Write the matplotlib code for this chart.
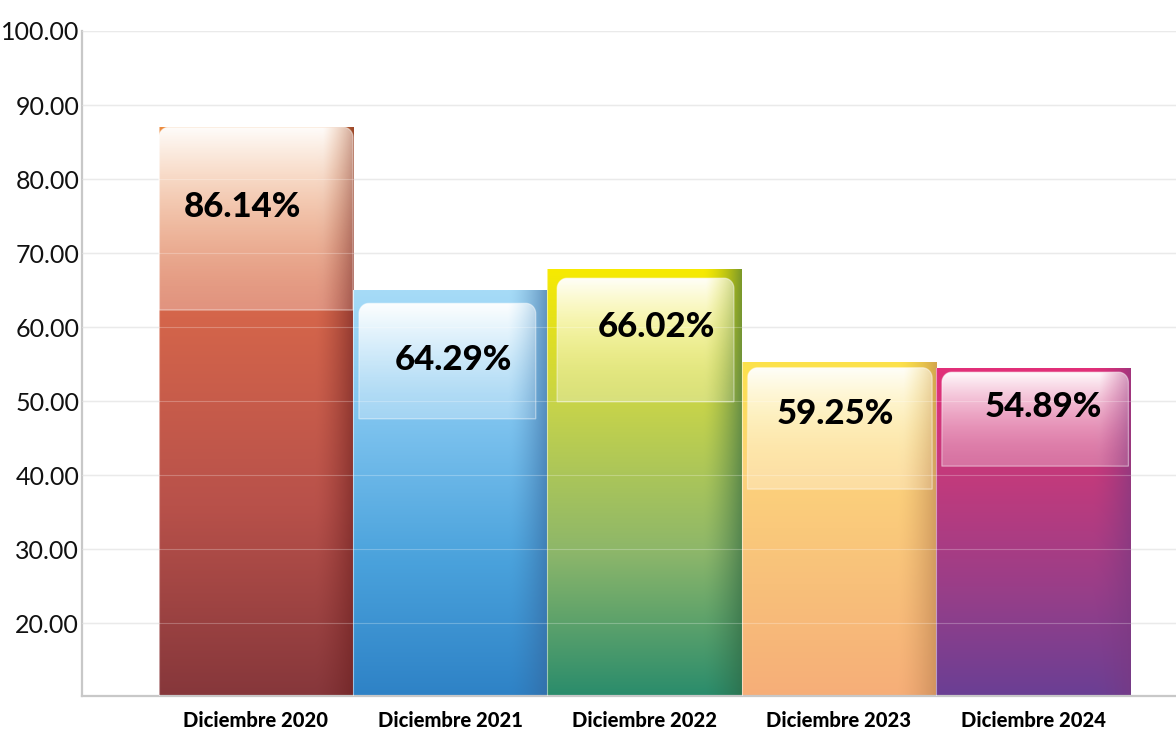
import numpy as np
import matplotlib
matplotlib.use("Agg")
import matplotlib.pyplot as plt
from matplotlib.colors import to_rgb
from matplotlib.path import Path
from matplotlib.patches import PathPatch, Rectangle

# ---------------- data ----------------
categories = ["Diciembre 2020", "Diciembre 2021", "Diciembre 2022",
              "Diciembre 2023", "Diciembre 2024"]
bar_heights = [87.0, 65.0, 67.8, 55.3, 54.5]          # drawn bar tops
value_labels = ["86.14%", "64.29%", "66.02%", "59.25%", "54.89%"]
y_ticks = [20, 30, 40, 50, 60, 70, 80, 90, 100]

# ---------------- styles ----------------
grad_colors = [  # top -> bottom stops
    ["#ec8a3c", "#d4654b", "#b8514a", "#86373b"],
    ["#a6dbf7", "#7cc2ee", "#4aa2dc", "#2e82c6"],
    ["#f7ea00", "#c4d24c", "#8cb66a", "#2a8c6c"],
    ["#fde24a", "#fcd27c", "#f8c07a", "#f6ae78"],
    ["#e22f78", "#c23a7c", "#9a3e88", "#6a3f94"],
]
edge_dark = ["#6a1f1f", "#35659a", "#2d6540", "#b8804e", "#7a3880"]
# gloss panel: (left, right) relative to bar centre, inset from top, depth
gloss_x = [(-0.5, 0.5), (-0.47, 0.44), (-0.45, 0.46), (-0.47, 0.48), (-0.47, 0.49)]
gloss_inset = [0.0, 1.8, 1.2, 0.8, 0.6]
gloss_depth = [24.7, 15.6, 16.7, 16.4, 12.7]
label_dx = [-0.067, 0.015, 0.06, -0.02, 0.05]
label_dy = [1.5, 0.1, 1.8, 1.9, 1.7]

YMIN, YMAX = 10.14, 100.0

fig = plt.figure(figsize=(11.76, 7.30), dpi=100)
ax = fig.add_axes([82 / 1176, 1 - 696 / 730, 1 - 82 / 1176, (696 - 31) / 730])
ax.set_xlim(-0.895, 4.735)
ax.set_ylim(YMIN, YMAX)

for yv in y_ticks:
    ax.axhline(yv, color="#e4e4e4", lw=1.0, zorder=0)


def vgrad(stops, n=256):
    cols = np.array([to_rgb(c) for c in stops])
    pos = np.linspace(0, 1, len(stops))
    t = np.linspace(0, 1, n)
    return np.stack([np.interp(t, pos, cols[:, k]) for k in range(3)], axis=1)


def rounded_top_path(x0, x1, y0, y1, rx, ry, n=12):
    verts = [(x0, y0), (x0, y1 - ry)]
    th = np.linspace(np.pi, np.pi / 2, n)
    verts += list(zip(x0 + rx + rx * np.cos(th), y1 - ry + ry * np.sin(th)))
    th = np.linspace(np.pi / 2, 0, n)
    verts += list(zip(x1 - rx + rx * np.cos(th), y1 - ry + ry * np.sin(th)))
    verts += [(x1, y0), (x0, y0)]
    codes = [Path.MOVETO] + [Path.LINETO] * (len(verts) - 2) + [Path.CLOSEPOLY]
    return Path(verts, codes)


for i, h in enumerate(bar_heights):
    x0, x1 = i - 0.5, i + 0.5
    H, W = 300, 120
    col = vgrad(grad_colors[i], H)  # top->bottom
    img = np.repeat(col[:, None, :], W, axis=1)
    xs = np.linspace(0, 1, W)
    shade = np.clip((xs - 0.8) / 0.2, 0, 1) ** 1.5 * 0.6
    dark = np.array(to_rgb(edge_dark[i]))
    img = img * (1 - shade[None, :, None]) + dark[None, None, :] * shade[None, :, None]
    rect = Rectangle((x0, YMIN), 1.0, h - YMIN, transform=ax.transData,
                     facecolor="none", edgecolor="none")
    ax.add_patch(rect)
    im = ax.imshow(img, extent=(x0, x1, YMIN, h), aspect="auto",
                   origin="upper", zorder=2, interpolation="bilinear")
    im.set_clip_path(rect)
    ax.plot([x0, x0], [YMIN, h], color="white", lw=0.8, alpha=0.5, zorder=3)

    # gloss panel
    gx0, gx1 = i + gloss_x[i][0], i + gloss_x[i][1]
    gtop = h - gloss_inset[i]
    gbot = gtop - gloss_depth[i]
    path = rounded_top_path(gx0, gx1, gbot, gtop, 0.05, 1.4)
    gpatch = PathPatch(path, facecolor="none", edgecolor=(1, 1, 1, 0.45),
                       lw=0.9, zorder=5)
    ax.add_patch(gpatch)
    t = np.linspace(0, 1, 256)
    alpha = 0.30 + 0.68 * (1 - t) ** 1.6
    gimg = np.ones((256, 60, 4))
    gx = np.linspace(0, 1, 60)
    side = 1 - 0.45 * np.clip((gx - 0.85) / 0.15, 0, 1)
    gimg[:, :, 3] = alpha[:, None] * side[None, :]
    gim = ax.imshow(gimg, extent=(gx0, gx1, gbot, gtop), aspect="auto",
                    origin="upper", zorder=4, interpolation="bilinear")
    gim.set_clip_path(gpatch)

    ax.text(i + label_dx[i], gbot + gloss_depth[i] / 2 + label_dy[i], value_labels[i],
            ha="center", va="center", fontsize=25, fontweight="black",
            family="Lato", color="black", zorder=6)

for yv in y_ticks:
    ax.axhline(yv, color="white", lw=0.8, alpha=0.25, zorder=4.5)

ax.set_xlim(-0.895, 4.735)
ax.set_ylim(YMIN, YMAX)
ax.set_xticks(range(len(categories)))
ax.set_xticklabels(categories, fontsize=14.5, fontweight="black", family="Lato")
ax.set_yticks(y_ticks)
ax.set_yticklabels([f"{v:.2f}" for v in y_ticks], fontsize=18,
                   fontweight="normal", family="Lato", color="#111111")
ax.tick_params(axis="both", length=0)
ax.tick_params(axis="x", pad=11)
ax.tick_params(axis="y", pad=2)
for s in ["top", "right"]:
    ax.spines[s].set_visible(False)
ax.spines["left"].set_color("#c8c8c8")
ax.spines["left"].set_linewidth(1.6)
ax.spines["bottom"].set_color("#c8c8c8")
ax.spines["bottom"].set_linewidth(1.6)
ax.set_facecolor("white")

fig.savefig("out.png", dpi=100)
